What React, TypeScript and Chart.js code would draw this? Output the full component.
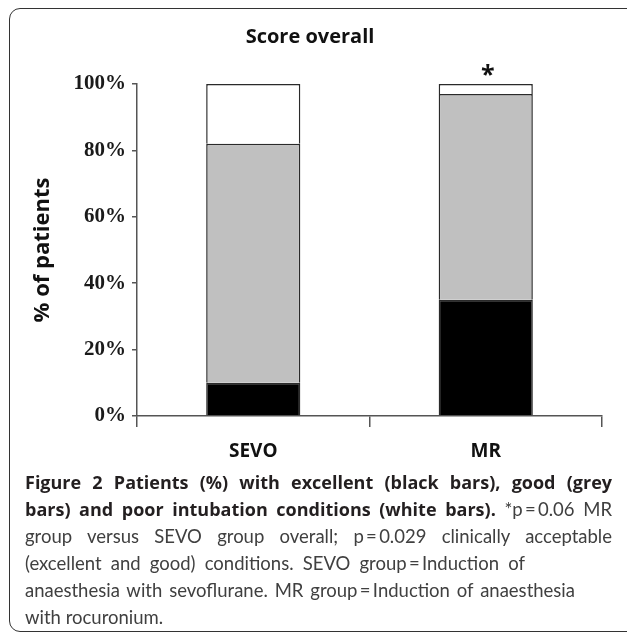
import React, { useEffect, useRef } from 'react';
import { Chart, registerables } from 'chart.js';

Chart.register(...registerables);

const categories = ['SEVO', 'MR'];
const excellent = [10, 35];
const good = [72, 62];
const poor = [18, 3];
const yTicks = [0, 20, 40, 60, 80, 100];
const significance = ['', '*'];
const chartTitle = 'Score overall';
const yAxisTitle = '% of patients';

const T = '\u2009';
const captionLines: { bold?: string; text?: string; width: number }[] = [
  { bold: 'Figure 2 Patients (%) with excellent (black bars), good (grey', width: 587 },
  { bold: 'bars) and poor intubation conditions (white bars).', text: ` *p${T}=${T}0.06 MR`, width: 587 },
  { text: `group versus SEVO group overall; p${T}=${T}0.029 clinically acceptable`, width: 587 },
  { text: `(excellent and good) conditions. SEVO group${T}=${T}Induction of`, width: 500 },
  { text: `anaesthesia with sevoflurane. MR group${T}=${T}Induction of anaesthesia`, width: 550 },
  { text: 'with rocuronium.', width: 0 },
];

export default function App() {
  const ref = useRef<HTMLCanvasElement>(null);

  useEffect(() => {
    document.documentElement.style.overflow = 'hidden';
    document.body.style.overflow = 'hidden';
    const starPlugin = {
      id: 'starPlugin',
      afterDatasetsDraw(chart: any) {
        const { ctx, scales } = chart;
        ctx.save();
        ctx.font = 'bold 25px "Open Sans"';
        ctx.fillStyle = '#111';
        ctx.textAlign = 'center';
        ctx.textBaseline = 'alphabetic';
        significance.forEach((s, i) => {
          if (!s) return;
          const x = scales.x.getPixelForValue(i);
          const total = excellent[i] + good[i] + poor[i];
          const y = scales.y.getPixelForValue(total);
          ctx.fillText(s, x + 2, y - 1);
        });
        ctx.restore();
      },
    };

    const seg = (label: string, data: number[], color: string) => ({
      label,
      data,
      backgroundColor: color,
      borderColor: '#2a2a2a',
      borderWidth: 1.5,
      barPercentage: 0.405,
      categoryPercentage: 1,
    });

    const chart = new Chart(ref.current as HTMLCanvasElement, {
      type: 'bar',
      data: {
        labels: categories,
        datasets: [
          seg('Excellent', excellent, '#000000'),
          seg('Good', good, '#c0c0c0'),
          seg('Poor', poor, '#ffffff'),
        ],
      },
      options: {
        responsive: false,
        animation: false,
        devicePixelRatio: 1,
        layout: { padding: { left: 18, right: 25, top: 0, bottom: 0 } },
        plugins: {
          legend: { display: false },
          tooltip: { enabled: false },
          title: {
            display: true,
            text: chartTitle,
            color: '#111',
            font: { family: '"Open Sans"', size: 20, weight: 'bold', lineHeight: 1.2 },
            padding: { top: 25, bottom: 35 },
          },
        },
        scales: {
          x: {
            stacked: true,
            border: { display: true, color: '#555', width: 1.5 },
            grid: { display: true, drawOnChartArea: false, drawTicks: true, tickLength: 11, color: '#555', lineWidth: 1.5, offset: true },
            ticks: { padding: 13, color: '#111', font: { family: '"Open Sans"', size: 19, weight: 'bold' } },
            afterFit: (s: any) => { s.height = 54; },
          },
          y: {
            stacked: true,
            min: 0,
            max: 100,
            border: { display: true, color: '#555', width: 1.5 },
            grid: { drawOnChartArea: false, drawTicks: true, tickLength: 5, color: '#555', lineWidth: 1.5 },
            afterBuildTicks: (s: any) => { s.ticks = yTicks.map((v) => ({ value: v })); },
            ticks: {
              padding: 6,
              color: '#1a1a1a',
              font: { family: '"Liberation Serif"', size: 21, weight: 'bold' },
              callback: (v: any) => v + '%',
            },
            title: {
              display: true,
              text: yAxisTitle,
              color: '#111',
              font: { family: '"Open Sans"', size: 22, weight: 'bold', lineHeight: 1.2 },
              padding: { top: 12, bottom: 10 },
            },
            afterFit: (s: any) => { s.width = 119; },
          },
        },
      },
      plugins: [starPlugin],
    } as any);
    return () => chart.destroy();
  }, []);

  return (
    <div style={{ position: 'fixed', left: 0, top: 0, width: 627, height: 636, background: '#fff', overflow: 'hidden' }}>
      <div
        style={{
          position: 'absolute', left: 9, top: 8, width: 660, height: 624,
          border: '1.5px solid #333', borderRadius: 11, boxSizing: 'border-box',
        }}
      />
      <canvas ref={ref} width={627} height={470} style={{ position: 'absolute', left: 0, top: 0, width: 627, height: 470 }} />
      <div style={{ position: 'absolute', left: 25, top: 469, fontFamily: 'Lato, "Open Sans", sans-serif', fontSize: 18.5, lineHeight: '27px' }}>
        {captionLines.map((l, i) => (
          <div
            key={i}
            style={{
              width: l.width || 'auto',
              whiteSpace: 'nowrap',
              textAlign: l.width ? 'justify' : 'left',
              textAlignLast: l.width ? 'justify' : 'left',
            } as any}
          >
            {l.bold && <span style={{ fontWeight: 'bold', fontFamily: '"Open Sans"', fontSize: 18, color: '#231f20' }}>{l.bold}</span>}
            {l.text && <span style={{ color: '#404040' }}>{l.text}</span>}
          </div>
        ))}
      </div>
    </div>
  );
}
